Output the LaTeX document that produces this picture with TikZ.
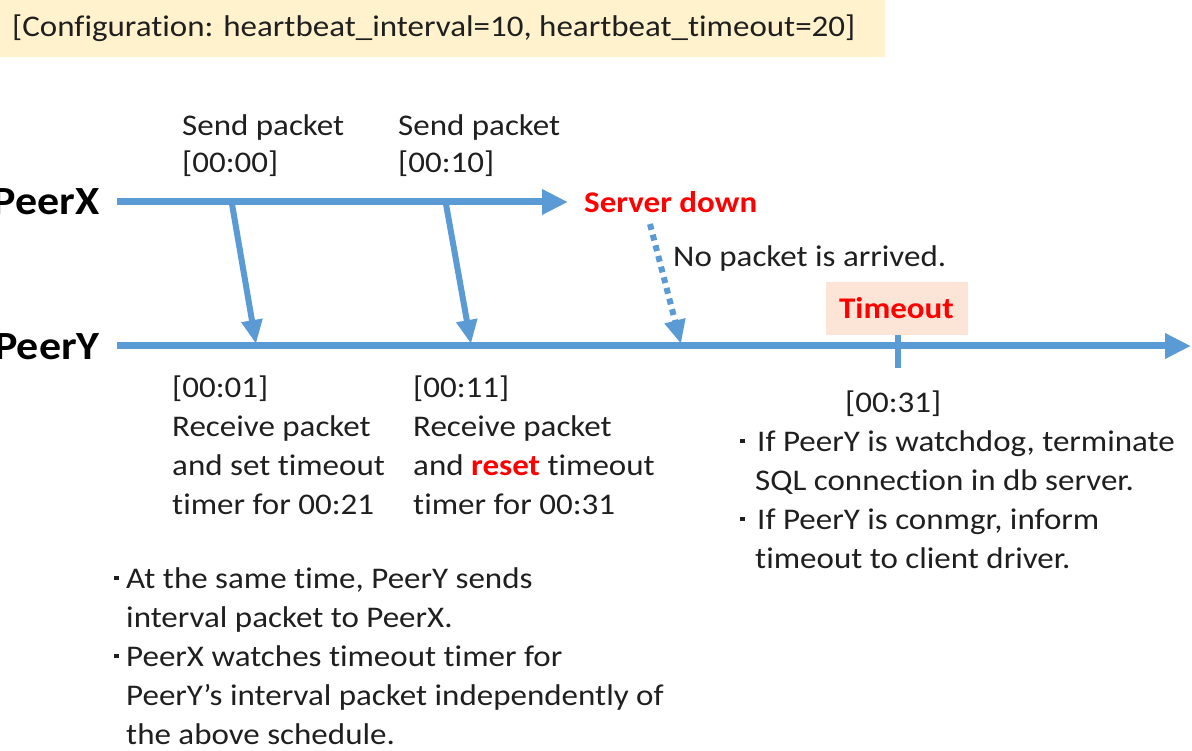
\documentclass[tikz,border=0pt]{standalone}
\usepackage{fontspec}
\setmainfont{Carlito}[FakeStretch=1.1,Ligatures=NoCommon]
\usetikzlibrary{arrows.meta}
\definecolor{lblue}{HTML}{5B9BD5}
\definecolor{hdr}{HTML}{FFF2CC}
\definecolor{tbox}{HTML}{FCE4D6}
\definecolor{rred}{HTML}{FF0000}
\newcommand{\sqb}{\raisebox{8pt}{\rule{4.5pt}{4.5pt}}}
\begin{document}
\begin{tikzpicture}[x=1pt,y=-1pt,
  txt/.style={anchor=base west,inner sep=0pt,font=\fontsize{30}{36}\selectfont,text=black!88},
  redtxt/.style={txt,font=\fontsize{30}{36}\selectfont\bfseries,text=rred},
  peer/.style={anchor=base east,inner sep=0pt,font=\fontsize{40}{44}\selectfont\bfseries},
  tl/.style={line width=7pt,lblue,-{Triangle[width=24pt,length=26pt]}},
  msg/.style={line width=6pt,lblue,-{Triangle[width=20pt,length=24pt]}},
  lost/.style={msg,dash pattern=on 6pt off 5pt}
  ]
\useasboundingbox (0,0) rectangle (1192,751);
\fill[hdr] (0,0) rectangle (885,57);
\node[txt] (cfg) at (12,37) {[Configuration: heartbeat\_interval=10, heartbeat\_timeout=20]};

% peers
\node[peer] (px) at (100,215) {PeerX};
\node[peer] (py) at (100,360) {PeerY};

% timelines
\coordinate (xs) at (117,202);
\coordinate (xe) at (568,202);
\coordinate (ys) at (117,346);
\coordinate (ye) at (1191,346);
\draw[tl] (xs) -- (xe);
\draw[tl] (ys) -- (ye);

% messages
\coordinate (m1s) at (232,204);
\coordinate (m1e) at (256,344);
\coordinate (m2s) at (446,204);
\coordinate (m2e) at (471,344);
\coordinate (m3s) at (650,224);
\coordinate (m3e) at (681,344);
\draw[msg] (m1s) -- (m1e);
\draw[msg] (m2s) -- (m2e);
\draw[lost] (m3s) -- (m3e);

% timeout tick and box
\coordinate (tk1) at (898,335);
\coordinate (tk2) at (898,368);
\draw[lblue,line width=6pt] (tk1) -- (tk2);
\node[fill=tbox,minimum width=142pt,minimum height=53pt,inner sep=0pt,
      font=\fontsize{30}{36}\selectfont\bfseries,text=rred] (tobox) at (896.5,308.5) {Timeout};

% labels above
\node[txt] (s1a) at (182,136) {Send packet};
\node[txt] (s1b) at (182,173) {[00:00]};
\node[txt] (s2a) at (398,136) {Send packet};
\node[txt] (s2b) at (398,173) {[00:10]};
\node[redtxt] (down) at (584,213) {Server down};
\node[txt] (nopk) at (673,267) {No packet is arrived.};

% labels below
\node[txt] (r1a) at (172,397) {[00:01]};
\node[txt] (r1b) at (172,436) {Receive packet};
\node[txt] (r1c) at (172,475) {and set timeout};
\node[txt] (r1d) at (172,514) {timer for 00:21};
\node[txt] (r2a) at (413,397) {[00:11]};
\node[txt] (r2b) at (413,436) {Receive packet};
\node[txt] (r2c) at (413,475) {and {\bfseries\color{rred}reset} timeout};
\node[txt] (r2d) at (413,514) {timer for 00:31};

% timeout notes
\node[txt] (t0) at (845,413) {[00:31]};
\node[txt] (t1) at (740,451) {\makebox[17pt][l]{\sqb}If PeerY is watchdog, terminate};
\node[txt] (t2) at (755,490) {SQL connection in db server.};
\node[txt] (t3) at (740,529) {\makebox[17pt][l]{\sqb}If PeerY is conmgr, inform};
\node[txt] (t4) at (755,568) {timeout to client driver.};

% bottom notes
\node[txt] (b1) at (114,588) {\makebox[12pt][l]{\sqb}At the same time, PeerY sends};
\node[txt] (b2) at (126,627) {interval packet to PeerX.};
\node[txt] (b3) at (114,666) {\makebox[12pt][l]{\sqb}PeerX watches timeout timer for};
\node[txt] (b4) at (126,705) {PeerY’s interval packet independently of};
\node[txt] (b5) at (126,744) {the above schedule.};
\end{tikzpicture}
\end{document}
